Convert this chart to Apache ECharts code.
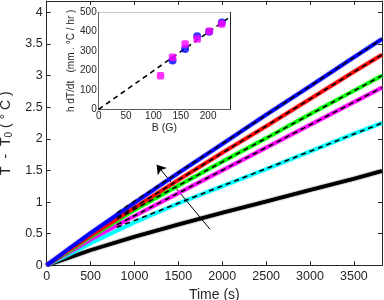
<!DOCTYPE html>
<html><head><meta charset="utf-8">
<script src="https://cdn.jsdelivr.net/npm/echarts@6/dist/echarts.min.js"></script>
<style>html,body{margin:0;padding:0;background:#fff}#c{width:384px;height:300px}</style>
</head><body><div id="c"></div>
<script>
// main plot data: T - T0 (deg C) vs time (s)
const times   = [0, 250, 500, 1000, 1500, 2000, 2500, 3000, 3500, 3820];
const blueT   = [0, 0.26, 0.51, 0.99, 1.46, 1.92, 2.38, 2.83, 3.29, 3.58];
const redT    = [0, 0.24, 0.47, 0.91, 1.35, 1.78, 2.20, 2.63, 3.06, 3.33];
const greenT  = [0, 0.22, 0.45, 0.875, 1.26, 1.64, 2.01, 2.39, 2.76, 3.00];
const magT    = [0, 0.20, 0.41, 0.78, 1.14, 1.50, 1.86, 2.22, 2.58, 2.81];
const cyanT   = [0, 0.17, 0.35, 0.68, 0.98, 1.25, 1.52, 1.80, 2.08, 2.25];
const blackT  = [0, 0.12, 0.24, 0.45, 0.645, 0.83, 1.01, 1.19, 1.37, 1.49];
// linear fits (start, end)
const fitTimes = [800, 3820];
const blueFit  = [0.83, 3.58];
const redFit   = [0.75, 3.33];
const greenFit = [0.735, 3.00];
const magFit   = [0.64, 2.81];
const cyanFit  = [0.60, 2.25];
// arrow annotation (tail, head) in data units
const arrowTail = [1860, 0.57];
const arrowHead = [1253, 1.59];
// inset: h dT/dt vs B
const insetBlue = [[135, 252], [158, 311], [180, 377], [202, 400], [225, 447]];
const insetMag  = [[113, 173], [135, 268], [158, 337], [180, 362], [202, 402], [225, 440]];
const insetFit  = [[0, 0], [240, 476]];
const xTicksMain = [0, 500, 1000, 1500, 2000, 2500, 3000, 3500];
const yTicksMain = [0, 0.5, 1, 1.5, 2, 2.5, 3, 3.5, 4];

const FONT = "'Liberation Sans', Arial, Helvetica, sans-serif";
const AX = '#262626';
const zip = (xs, ys) => xs.map((x, i) => [x, ys[i]]);

function ax(extra) {
  return Object.assign({
    type: 'value', splitLine: {show: false},
    axisLine: {show: true, onZero: false, lineStyle: {color: AX, width: 1}},
    axisTick: {show: true, inside: true, length: 4, lineStyle: {color: AX}},
    axisLabel: {show: true, color: '#262626', fontFamily: FONT, fontSize: 12.5}
  }, extra);
}
function fmtTicks(list) {
  return v => list.some(t => Math.abs(t - v) < 1e-9) ? String(v) : '';
}

function dataLine(vals, color, z) {
  return {
    type: 'line', xAxisIndex: 0, yAxisIndex: 0, data: zip(times, vals),
    showSymbol: false, symbol: 'none', silent: true, z: z,
    lineStyle: {color: color, width: 3.6, shadowBlur: 1.5, shadowColor: color},
    animation: false
  };
}
function fitLine(vals) {
  return {
    type: 'line', xAxisIndex: 0, yAxisIndex: 0, data: zip(fitTimes, vals),
    showSymbol: false, symbol: 'none', silent: true, z: 10,
    lineStyle: {color: '#000', width: 1.6, type: [5, 4]}, animation: false
  };
}

const chart = echarts.init(document.getElementById('c'), null, {renderer: 'canvas'});
const blackSeries = dataLine(blackT, '#000000', 3);
blackSeries.markLine = {
  silent: true, symbol: ['none', 'arrow'], symbolSize: 9,
  label: {show: false}, lineStyle: {color: '#000', width: 1, type: 'solid'},
  itemStyle: {color: '#000'},
  data: [[{coord: arrowTail}, {coord: arrowHead}]], animation: false
};

chart.setOption({
  animation: false,
  backgroundColor: '#fff',
  textStyle: {fontFamily: FONT},
  grid: [
    {left: 46.7, top: 1, width: 335.3, height: 264.3, show: false, containLabel: false, outerBoundsMode: 'none'},
    {left: 98.7, top: 12.3, width: 131.3, height: 97, show: true, backgroundColor: '#fff', borderWidth: 0,
     containLabel: false, outerBoundsMode: 'none', z: 5}
  ],
  xAxis: [
    ax({gridIndex: 0, min: 0, max: 3820, interval: 500, position: 'bottom',
        axisLabel: {color: '#262626', fontFamily: FONT, fontSize: 12.5, margin: 5, formatter: fmtTicks(xTicksMain)},
        name: 'Time (s)', nameLocation: 'middle', nameGap: 17,
        nameTextStyle: {fontSize: 14, color: '#262626', fontFamily: FONT}}),
    ax({gridIndex: 0, min: 0, max: 3820, interval: 500, position: 'top', axisLabel: {show: false}}),
    ax({gridIndex: 1, min: 0, max: 240, interval: 50, position: 'bottom',
        axisTick: {show: true, inside: true, length: 3, lineStyle: {color: AX}},
        axisLabel: {color: '#262626', fontFamily: FONT, fontSize: 10, margin: 2, formatter: fmtTicks([0,50,100,150,200])},
        name: 'B (G)', nameLocation: 'middle', nameGap: 11.5,
        nameTextStyle: {fontSize: 10.5, color: '#262626', fontFamily: FONT}}),
    ax({gridIndex: 1, min: 0, max: 240, interval: 50, position: 'top',
        axisTick: {show: true, inside: true, length: 3, lineStyle: {color: AX}}, axisLabel: {show: false}})
  ],
  yAxis: [
    ax({gridIndex: 0, min: 0, max: 4.18, interval: 0.5, position: 'left',
        axisLabel: {color: '#262626', fontFamily: FONT, fontSize: 12.5, margin: 4, formatter: fmtTicks(yTicksMain)},
        name: 'T  -  T{sub|0} ( ° C )', nameLocation: 'middle', nameGap: 27, nameRotate: 90,
        nameTextStyle: {fontSize: 14, color: '#262626', fontFamily: FONT, padding: [0, 0, 0, 0],
          rich: {sub: {fontSize: 10, fontFamily: FONT, color: '#262626', verticalAlign: 'bottom', padding: [6, 0, 0, 0]}}}}),
    ax({gridIndex: 0, min: 0, max: 4.18, interval: 0.5, position: 'right', axisLabel: {show: false}}),
    ax({gridIndex: 1, min: 0, max: 500, interval: 100, position: 'left',
        axisTick: {show: true, inside: true, length: 3, lineStyle: {color: AX}},
        axisLabel: {color: '#262626', fontFamily: FONT, fontSize: 10, margin: 2},
        name: 'h dT/dt   (mm . °C / hr )', nameLocation: 'middle', nameGap: 22, nameRotate: 90,
        nameTextStyle: {fontSize: 10, color: '#262626', fontFamily: FONT}}),
    ax({gridIndex: 1, min: 0, max: 500, interval: 100, position: 'right',
        axisTick: {show: true, inside: true, length: 3, lineStyle: {color: AX}}, axisLabel: {show: false}})
  ],
  series: [
    blackSeries,
    dataLine(cyanT, '#00ffff', 4),
    dataLine(magT, '#ff00ff', 5),
    dataLine(greenT, '#00ff00', 6),
    dataLine(redT, '#ff0000', 7),
    dataLine(blueT, '#0000ff', 8),
    fitLine(cyanFit), fitLine(magFit), fitLine(greenFit), fitLine(redFit), fitLine(blueFit),
    {type: 'line', xAxisIndex: 2, yAxisIndex: 2, data: insetFit, showSymbol: false, symbol: 'none',
     silent: true, z: 20, lineStyle: {color: '#000', width: 1.6, type: [5, 4]}},
    {type: 'scatter', xAxisIndex: 2, yAxisIndex: 2, data: insetBlue, symbol: 'circle', symbolSize: 8,
     silent: true, z: 21, itemStyle: {color: '#0000ff'}},
    {type: 'scatter', xAxisIndex: 2, yAxisIndex: 2, data: insetMag, symbol: 'roundRect', symbolSize: 7.5,
     silent: true, z: 22, itemStyle: {color: '#ff00ff'}}
  ]
});
</script>
</body></html>
